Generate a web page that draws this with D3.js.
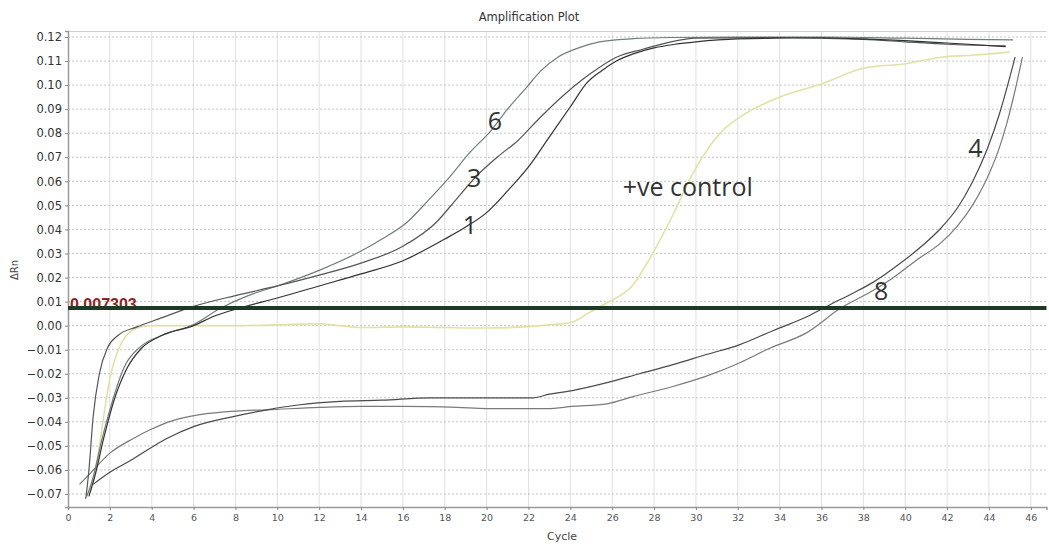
<!DOCTYPE html>
<html>
<head>
<meta charset="utf-8">
<script src="https://cdnjs.cloudflare.com/ajax/libs/d3/7.8.5/d3.min.js"></script>
<style>
    body { margin: 0; background: #fff; }
    svg { display: block; }
</style>
</head>
<body>
<div id="chart"></div>
<script>
// amplification curves, [cycle, delta Rn]
var curve1 = [[1.0, -0.071], [1.3, -0.062], [1.7, -0.047], [2.2, -0.031], [2.8, -0.018], [3.5, -0.0095], [4.5, -0.004], [6.0, 0.0], [7.0, 0.004], [8.2, 0.0073], [10, 0.0115], [12, 0.0165], [14, 0.0215], [16, 0.027], [18, 0.036], [19, 0.041], [20, 0.047], [21, 0.056], [22, 0.066], [23, 0.0785], [24, 0.091], [24.8, 0.101], [25.5, 0.106], [26.2, 0.110], [27, 0.113], [28, 0.1155], [29, 0.117], [30, 0.118], [32, 0.1192], [36, 0.1197], [38, 0.1192], [40, 0.1185], [42, 0.1175], [44.8, 0.116]]
var curve3 = [[0.85, -0.072], [1.0, -0.060], [1.2, -0.038], [1.5, -0.020], [1.9, -0.009], [2.4, -0.004], [3.3, -0.0005], [4.4, 0.003], [6, 0.008], [8, 0.0125], [10, 0.0165], [12, 0.021], [14, 0.026], [16, 0.033], [17.6, 0.043], [18.5, 0.052], [19.5, 0.062], [20.5, 0.070], [21.5, 0.077], [22.5, 0.086], [23.8, 0.0967], [25, 0.105], [26.2, 0.1116], [27.5, 0.115], [28.8, 0.118], [30, 0.1195], [34, 0.1198], [36, 0.1195], [38, 0.119], [40, 0.118], [42, 0.117], [44.8, 0.1163]]
var curve6 = [[0.9, -0.071], [1.2, -0.063], [1.6, -0.048], [2.1, -0.032], [2.7, -0.017], [3.5, -0.0085], [4.5, -0.004], [6, 0.0005], [7.3, 0.0073], [8.7, 0.0128], [10, 0.0165], [12, 0.023], [14, 0.031], [15, 0.036], [16.2, 0.043], [17.2, 0.052], [18.25, 0.062], [19.2, 0.072], [20.2, 0.081], [21, 0.090], [21.9, 0.099], [22.6, 0.106], [23.4, 0.1116], [24.4, 0.1155], [25.4, 0.118], [27, 0.1193], [28.8, 0.1198], [32, 0.12], [36, 0.12], [40, 0.1195], [43, 0.119], [45.15, 0.1188]]
var curve4 = [[1.2, -0.066], [2, -0.061], [3, -0.056], [4.7, -0.047], [6, -0.042], [7.9, -0.0378], [9.5, -0.035], [11, -0.033], [13, -0.0315], [15, -0.031], [17.3, -0.030], [20, -0.030], [22.2, -0.030], [23, -0.0285], [24.1, -0.027], [25.75, -0.0237], [27.3, -0.020], [28.9, -0.0162], [30.5, -0.012], [32.1, -0.0079], [33.7, -0.002], [35.3, 0.0037], [36.4, 0.0087], [37.5, 0.0135], [38.5, 0.0182], [39.7, 0.0255], [40.85, 0.0335], [41.7, 0.0405], [42.5, 0.049], [43.2, 0.0595], [43.9, 0.073], [44.5, 0.088], [45.25, 0.1116]]
var curve8 = [[0.55, -0.066], [1.0, -0.062], [2.0, -0.053], [3.1, -0.047], [4.0, -0.043], [5.0, -0.0395], [6.3, -0.037], [8.0, -0.0355], [9.5, -0.035], [12, -0.034], [14, -0.0336], [16, -0.0336], [18.6, -0.034], [20, -0.0345], [22.9, -0.0345], [24.1, -0.0336], [25.75, -0.0325], [27, -0.0295], [28.9, -0.0253], [30.5, -0.021], [32.1, -0.0154], [33.5, -0.0095], [35.3, -0.0029], [36.9, 0.0072], [38.5, 0.0148], [39.3, 0.0192], [40.5, 0.027], [41.7, 0.0344], [42.5, 0.0415], [43.25, 0.0505], [43.7, 0.0575], [44.05, 0.064], [44.5, 0.074], [44.85, 0.084], [45.2, 0.096], [45.6, 0.1116]]
var positiveControl = [[1.0, -0.070], [1.4, -0.056], [1.7, -0.038], [2.0, -0.022], [2.4, -0.010], [2.8, -0.004], [3.3, -0.001], [4, 0.0], [6, 0.0], [8, 0.0], [10, 0.0003], [12, 0.0008], [13, 0.0], [14, -0.0008], [16, -0.0005], [18, -0.0008], [20, -0.001], [22, -0.0004], [23, 0.0004], [24, 0.0012], [24.9, 0.0054], [25.75, 0.0095], [27, 0.017], [27.8, 0.028], [28.9, 0.046], [29.9, 0.064], [31.15, 0.080], [32.1, 0.0867], [34, 0.095], [36.1, 0.1008], [38, 0.107], [40.1, 0.109], [41.7, 0.1116], [43.2, 0.1124], [45, 0.1137]]

var threshold = 0.007303
var xTicks = [0, 2, 4, 6, 8, 10, 12, 14, 16, 18, 20, 22, 24, 26, 28, 30, 32, 34, 36, 38, 40, 42, 44, 46]
var yTicks = [-0.07, -0.06, -0.05, -0.04, -0.03, -0.02, -0.01, 0.00, 0.01, 0.02, 0.03, 0.04, 0.05, 0.06, 0.07, 0.08, 0.09, 0.10, 0.11, 0.12]

// hand written sample labels: [text, cycle, delta Rn]
var curveLabels = [["6", 20.4, 0.0815], ["3", 19.4, 0.0575], ["1", 19.2, 0.038], ["+ve control", 26.5, 0.054], ["4", 43.35, 0.070], ["8", 38.85, 0.0107]]

; (function () {

    var W = 1049, H = 546
    var axisFont = "'DejaVu Sans', Verdana, sans-serif"

    var svg = d3.select("#chart").append("svg")
        .attr("width", W).attr("height", H)

    var x = d3.scaleLinear().domain([0, 46.75]).range([68, 1046.5])
    var y = d3.scaleLinear().domain([-0.0754, 0.1225]).range([507, 31])

    // grid
    svg.append("g").selectAll("line")
        .data(xTicks.filter(function (d) { return d > 0 }))
        .enter().append("line")
        .attr("x1", function (d) { return x(d) }).attr("x2", function (d) { return x(d) })
        .attr("y1", y.range()[1]).attr("y2", y.range()[0])
        .attr("stroke", "#e0e0e0").attr("stroke-width", 1)

    svg.append("g").selectAll("line")
        .data(yTicks)
        .enter().append("line")
        .attr("x1", x.range()[0]).attr("x2", x.range()[1])
        .attr("y1", function (d) { return y(d) }).attr("y2", function (d) { return y(d) })
        .attr("stroke", "#c4c4c4").attr("stroke-width", 1)
        .attr("stroke-dasharray", "2,2")

    // top border
    svg.append("line")
        .attr("x1", x.range()[0]).attr("x2", x.range()[1])
        .attr("y1", 31.5).attr("y2", 31.5)
        .attr("stroke", "#d0d0d0")

    // axes
    var xAxis = d3.axisBottom(x).tickValues(xTicks).tickSize(3).tickPadding(4)
        .tickFormat(d3.format("d"))
    var yAxis = d3.axisLeft(y).tickValues(yTicks).tickSize(3).tickPadding(3)
        .tickFormat(d3.format(".2f"))

    var gx = svg.append("g").attr("transform", "translate(0," + y.range()[0] + ")").call(xAxis)
    var gy = svg.append("g").attr("transform", "translate(" + x.range()[0] + ",0)").call(yAxis)

    ;[gx, gy].forEach(function (g) {
        g.select(".domain").attr("stroke", "#9a9a9a").attr("stroke-width", 1.5)
        g.selectAll(".tick line").attr("stroke", "#888")
        g.selectAll(".tick text")
            .attr("fill", "#333")
            .style("font-family", axisFont)
            .style("font-size", "11.5px")
    })
    gx.selectAll(".tick text").style("font-size", "9.5px").attr("fill", "#555")

    // curves
    var line = d3.line()
        .x(function (d) { return x(d[0]) })
        .y(function (d) { return y(d[1]) })
        .curve(d3.curveMonotoneX)

    var series = [
        { data: positiveControl, color: "#e2e2a4", width: 1.6 },
        { data: curve8, color: "#7a7a7a", width: 1.2 },
        { data: curve4, color: "#4a4a4a", width: 1.2 },
        { data: curve6, color: "#6f7d7c", width: 1.2 },
        { data: curve3, color: "#555", width: 1.2 },
        { data: curve1, color: "#333", width: 1.2 }
    ]

    svg.append("g").selectAll("path")
        .data(series)
        .enter().append("path")
        .attr("d", function (d) { return line(d.data) })
        .attr("fill", "none")
        .attr("stroke", function (d) { return d.color })
        .attr("stroke-width", function (d) { return d.width })

    // threshold
    svg.append("text")
        .attr("x", 70).attr("y", y(threshold) + 1.5)
        .attr("fill", "#8e2323")
        .style("font-family", "'Liberation Sans', Arial, sans-serif")
        .style("font-size", "16px")
        .style("font-weight", "bold")
        .text(threshold.toString())

    svg.append("line")
        .attr("x1", x.range()[0]).attr("x2", x.range()[1])
        .attr("y1", y(threshold)).attr("y2", y(threshold))
        .attr("stroke", "#1d3a25").attr("stroke-width", 4)

    // annotations
    svg.append("g").selectAll("text")
        .data(curveLabels)
        .enter().append("text")
        .attr("x", function (d) { return x(d[1]) })
        .attr("y", function (d) { return y(d[2]) })
        .attr("text-anchor", function (d) { return d[0].length > 1 ? "start" : "middle" })
        .attr("fill", "#333")
        .style("font-family", "'Open Sans', 'Noto Sans', sans-serif")
        .style("font-size", "25px")
        .text(function (d) { return d[0] })

    // titles
    svg.append("text")
        .attr("x", 529).attr("y", 21)
        .attr("text-anchor", "middle")
        .attr("fill", "#333")
        .style("font-family", axisFont)
        .style("font-size", "11.5px")
        .text("Amplification Plot")

    svg.append("text")
        .attr("x", 562).attr("y", 540)
        .attr("text-anchor", "middle")
        .attr("fill", "#444")
        .style("font-family", axisFont)
        .style("font-size", "11px")
        .text("Cycle")

    svg.append("text")
        .attr("transform", "translate(18,270) rotate(-90)")
        .attr("text-anchor", "middle")
        .attr("fill", "#444")
        .style("font-family", axisFont)
        .style("font-size", "10px")
        .text("ΔRn")

})();
</script>
</body>
</html>
